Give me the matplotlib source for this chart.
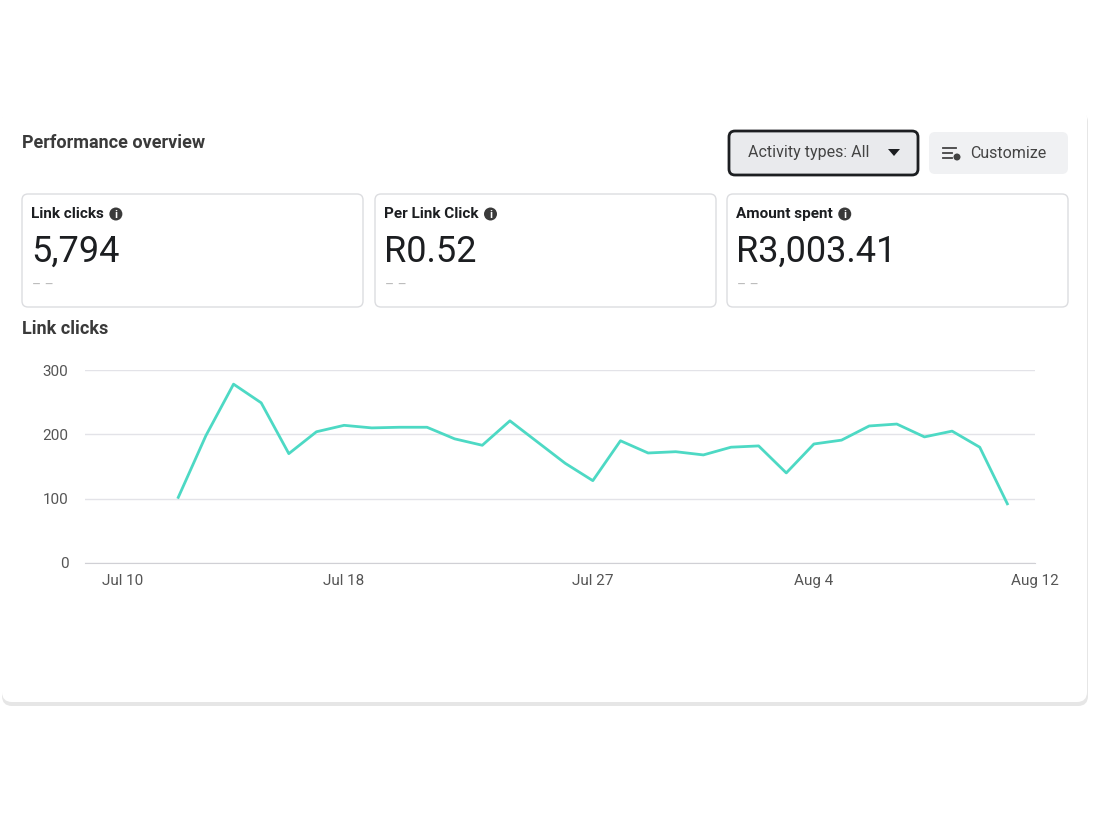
import matplotlib
matplotlib.use('Agg')
import matplotlib.pyplot as plt
from matplotlib.patches import FancyBboxPatch, Circle, Polygon

plt.rcParams['font.family'] = 'Roboto'

# ── data ──────────────────────────────────────────────
day_offsets = list(range(2, 33))   # days since Jul 10 (Jul 12 .. Aug 11)
link_clicks = [102, 198, 278, 249, 170, 204, 214, 210, 211, 211, 193, 183, 221,
               188, 155, 128, 190, 171, 173, 168, 180, 182, 140, 185, 191, 213,
               216, 196, 205, 180, 92]
tick_days = [0, 8, 17, 25, 33]
tick_labels = ['Jul 10', 'Jul 18', 'Jul 27', 'Aug 4', 'Aug 12']
y_ticks = [0, 100, 200, 300]
card_titles = ['Link clicks', 'Per Link Click', 'Amount spent']
card_values = ['5,794', 'R0.52', 'R3,003.41']

W, H = 1100, 825
fig = plt.figure(figsize=(11, 8.25), dpi=100)
fig.patch.set_facecolor('white')

# overlay in pixel coordinates
bg = fig.add_axes([0, 0, 1, 1])
bg.set_xlim(0, W)
bg.set_ylim(H, 0)
bg.axis('off')

# outer card with subtle shadow
bg.add_patch(FancyBboxPatch((2, 112), 1086, 594, boxstyle='round,pad=0,rounding_size=10',
                            fc='#e6e6e6', ec='none'))
bg.add_patch(FancyBboxPatch((2, 108), 1085, 594, boxstyle='round,pad=0,rounding_size=10',
                            fc='white', ec='none'))

bg.text(22, 143, 'Performance overview', fontsize=13, fontweight='bold', color='#3a3a3a', va='center')

# buttons
bg.add_patch(FancyBboxPatch((729, 131), 189, 44, boxstyle='round,pad=0,rounding_size=6',
                            fc='#e9eaed', ec='#1c1e21', lw=2))
bg.text(748, 153, 'Activity types: All', fontsize=11.5, color='#444', va='center')
bg.add_patch(Polygon([[888, 149], [900, 149], [894, 156]], closed=True, fc='#1c1e21'))
bg.add_patch(FancyBboxPatch((929, 132), 139, 42, boxstyle='round,pad=0,rounding_size=6',
                            fc='#f0f1f3', ec='none'))
for i, yy in enumerate([148, 153, 158]):
    bg.plot([943, 956 - (4 if i else 0)], [yy, yy], color='#444', lw=1.3)
bg.add_patch(Circle((957, 157), 3.5, fc='#444'))
bg.text(970, 153, 'Customize', fontsize=11.5, color='#444', va='center')

# metric cards
card_x = [22, 375, 727]
fig.canvas.draw()
for x0, title, val in zip(card_x, card_titles, card_values):
    bg.add_patch(FancyBboxPatch((x0, 194), 341, 113, boxstyle='round,pad=0,rounding_size=6',
                                fc='white', ec='#dcdde0', lw=1))
    t = bg.text(x0 + 9, 214, title, fontsize=11, fontweight='bold', color='#1c1e21', va='center')
    bb = t.get_window_extent(renderer=fig.canvas.get_renderer())
    ix = bb.x1 + 12
    bg.add_patch(Circle((ix, 214), 6.5, fc='#3a3a3a'))
    bg.text(ix, 214.5, 'i', fontsize=8, fontweight='bold', color='white', ha='center', va='center')
    bg.text(x0 + 9, 252, val, fontsize=26, color='#1c1e21', va='center')
    bg.text(x0 + 10, 285, '– –', fontsize=10, color='#bbb', va='center')

bg.text(22, 329, 'Link clicks', fontsize=13, fontweight='bold', color='#3a3a3a', va='center')

# chart
left, right, top, bottom = 85, 1035, 370, 563
ax = fig.add_axes([left / W, (H - bottom) / H, (right - left) / W, (bottom - top) / H])
ax.patch.set_alpha(0)
ax.plot(day_offsets, link_clicks, color='#4dd9c4', lw=2)
ax.set_xlim(-38 / 27.64, 33)
ax.set_ylim(0, 300)
ax.set_yticks(y_ticks)
ax.set_xticks(tick_days)
ax.set_xticklabels(tick_labels)
ax.grid(axis='y', color='#e3e3e8', lw=1)
ax.set_axisbelow(True)
for s in ['top', 'right', 'left']:
    ax.spines[s].set_visible(False)
ax.spines['bottom'].set_color('#d0d0d5')
ax.tick_params(axis='both', length=0, labelsize=11, labelcolor='#555')
ax.tick_params(axis='x', pad=8)
ax.tick_params(axis='y', pad=12)

fig.savefig('out.png', dpi=100)
